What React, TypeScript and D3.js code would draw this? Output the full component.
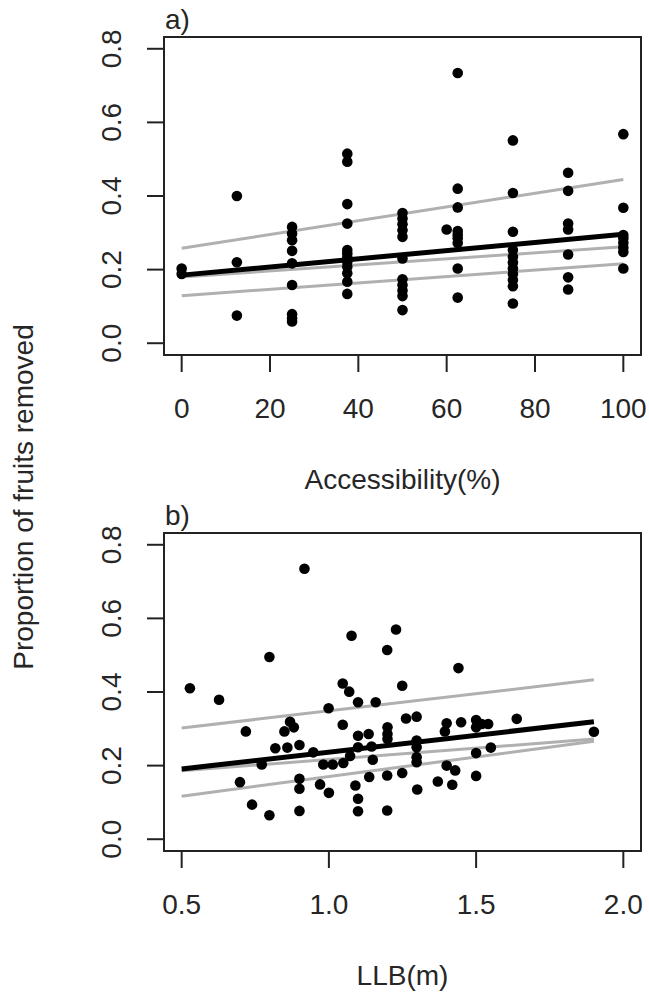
import React from "react";
import * as d3 from "d3";

// ---------- Data ----------
// Panel a: Accessibility (%) vs proportion of fruits removed
const accX: number[] = [
  0, 0,
  12.5, 12.5, 12.5,
  25, 25, 25, 25, 25, 25, 25, 25, 25,
  37.5, 37.5, 37.5, 37.5, 37.5, 37.5, 37.5, 37.5, 37.5, 37.5, 37.5, 37.5,
  50, 50, 50, 50, 50, 50, 50, 50, 50, 50, 50,
  60,
  62.5, 62.5, 62.5, 62.5, 62.5, 62.5, 62.5, 62.5, 62.5,
  75, 75, 75, 75, 75, 75, 75, 75, 75, 75, 75,
  87.5, 87.5, 87.5, 87.5, 87.5, 87.5, 87.5,
  100, 100, 100, 100, 100, 100, 100, 100,
];
const accY: number[] = [
  0.203, 0.188,
  0.40, 0.22, 0.075,
  0.316, 0.298, 0.28, 0.251, 0.217, 0.158, 0.079, 0.068, 0.059,
  0.515, 0.493, 0.378, 0.325, 0.253, 0.244, 0.233, 0.221, 0.208, 0.19, 0.167, 0.134,
  0.354, 0.339, 0.323, 0.307, 0.289, 0.23, 0.174, 0.158, 0.143, 0.128, 0.09,
  0.309,
  0.734, 0.42, 0.369, 0.305, 0.295, 0.285, 0.272, 0.203, 0.124,
  0.551, 0.408, 0.303, 0.253, 0.235, 0.219, 0.203, 0.188, 0.172, 0.155, 0.108,
  0.463, 0.414, 0.325, 0.309, 0.241, 0.179, 0.146,
  0.568, 0.368, 0.294, 0.285, 0.273, 0.26, 0.248, 0.203,
];
const accFit: [number, number][] = [[0, 0.185], [100, 0.296]];
const accUpper: [number, number][] = [[0, 0.258], [100, 0.445]];
const accMid: [number, number][] = [[0, 0.18], [100, 0.262]];
const accLower: [number, number][] = [[0, 0.129], [100, 0.216]];
const accTicks: number[] = [0, 20, 40, 60, 80, 100];

// Panel b: LLB (m) vs proportion of fruits removed
const llbX: number[] = [
  0.528, 0.627, 0.917, 0.798, 1.077, 1.228, 1.198, 1.047, 1.069, 1.249,
  0.999, 1.099, 1.159, 0.718, 0.868, 0.881, 0.849, 1.047, 0.818, 0.859,
  0.9, 0.947, 0.772, 0.981, 1.013, 1.049, 1.072, 1.099, 1.135, 1.099,
  1.149, 1.145, 1.199, 1.199, 1.199, 0.698, 0.9, 0.9, 0.97, 1.0,
  1.09, 1.099, 1.137, 1.198, 1.249, 0.739, 0.798, 0.9, 1.099, 1.198,
  1.44, 1.262, 1.298, 1.298, 1.298, 1.298, 1.298, 1.3, 1.4, 1.394,
  1.449, 1.5, 1.5, 1.519, 1.541, 1.638, 1.9, 1.5, 1.55, 1.4,
  1.429, 1.5, 1.37, 1.419,
];
const llbY: number[] = [
  0.41, 0.379, 0.735, 0.495, 0.553, 0.57, 0.514, 0.423, 0.401, 0.417,
  0.356, 0.372, 0.372, 0.293, 0.319, 0.304, 0.293, 0.311, 0.247, 0.249,
  0.256, 0.236, 0.203, 0.203, 0.203, 0.207, 0.226, 0.281, 0.286, 0.25,
  0.216, 0.252, 0.304, 0.286, 0.272, 0.155, 0.164, 0.137, 0.149, 0.126,
  0.146, 0.11, 0.169, 0.173, 0.18, 0.094, 0.065, 0.077, 0.076, 0.078,
  0.465, 0.328, 0.333, 0.268, 0.25, 0.223, 0.209, 0.135, 0.315, 0.293,
  0.318, 0.324, 0.304, 0.313, 0.313, 0.327, 0.292, 0.234, 0.249, 0.2,
  0.187, 0.172, 0.157, 0.148,
];
const llbFit: [number, number][] = [[0.5, 0.191], [1.9, 0.319]];
const llbUpper: [number, number][] = [[0.5, 0.302], [1.9, 0.433]];
const llbMid: [number, number][] = [[0.5, 0.186], [1.9, 0.272]];
const llbLower: [number, number][] = [[0.5, 0.117], [1.9, 0.266]];
const llbTicks: number[] = [0.5, 1.0, 1.5, 2.0];

const yTicks: number[] = [0, 0.2, 0.4, 0.6, 0.8];

const FONT = "'Liberation Sans', Arial, Helvetica, sans-serif";
const FS = 28;
const TXT = "#262626";

type PanelProps = {
  label: string;
  xTitle: string;
  xs: number[];
  ys: number[];
  fit: [number, number][];
  upper: [number, number][];
  mid: [number, number][];
  lower: [number, number][];
  xDomain: [number, number];
  xTicks: number[];
  xFmt: (v: number) => string;
  top: number;
};

const LEFT = 164;
const RIGHT = 641;
const PH = 318;

function Panel(p: PanelProps) {
  const bottom = p.top + PH;
  const x = d3.scaleLinear().domain(p.xDomain).range([LEFT, RIGHT]);
  const y = d3.scaleLinear().domain([-0.032, 0.832]).range([bottom, p.top]);
  const line = d3
    .line<[number, number]>()
    .x((d) => x(d[0]))
    .y((d) => y(d[1]));
  const yFmt = d3.format(".1f");
  return (
    <g>
      {[p.upper, p.mid, p.lower].map((l, i) => (
        <path key={i} d={line(l) || ""} fill="none" stroke="#b0b0b0" strokeWidth={3} />
      ))}
      <path d={line(p.fit) || ""} fill="none" stroke="#000" strokeWidth={5} />
      {p.xs.map((xv, i) => (
        <circle key={i} cx={x(xv)} cy={y(p.ys[i])} r={5.3} fill="#000" />
      ))}
      <rect x={LEFT} y={p.top} width={RIGHT - LEFT} height={PH} fill="none" stroke="#222" strokeWidth={2} />
      {yTicks.map((t) => (
        <g key={t}>
          <line x1={LEFT - 17} x2={LEFT} y1={y(t)} y2={y(t)} stroke="#222" strokeWidth={2} />
          <text
            transform={`translate(${121},${y(t)}) rotate(-90)`}
            textAnchor="middle"
            fontFamily={FONT}
            fontSize={FS}
            fill={TXT}
          >
            {yFmt(t)}
          </text>
        </g>
      ))}
      {p.xTicks.map((t) => (
        <g key={t}>
          <line x1={x(t)} x2={x(t)} y1={bottom} y2={bottom + 17} stroke="#222" strokeWidth={2} />
          <text x={x(t)} y={bottom + 63} textAnchor="middle" fontFamily={FONT} fontSize={FS} fill={TXT}>
            {p.xFmt(t)}
          </text>
        </g>
      ))}
      <text
        x={(LEFT + RIGHT) / 2}
        y={bottom + 134}
        textAnchor="middle"
        fontFamily={FONT}
        fontSize={FS}
        fill={TXT}
      >
        {p.xTitle}
      </text>
      <text x={LEFT + 1} y={p.top - 8} fontFamily={FONT} fontSize={FS} fill={TXT}>
        {p.label}
      </text>
    </g>
  );
}

export default function App() {
  return (
    <svg
      width={649}
      height={993}
      viewBox="0 0 649 993"
      style={{ position: "absolute", left: 0, top: 0, background: "#fff" }}
    >
      <rect x={0} y={0} width={649} height={993} fill="#fff" />
      <Panel
        label="a)"
        xTitle="Accessibility(%)"
        xs={accX}
        ys={accY}
        fit={accFit}
        upper={accUpper}
        mid={accMid}
        lower={accLower}
        xDomain={[-4, 104]}
        xTicks={accTicks}
        xFmt={(v) => String(v)}
        top={37}
      />
      <Panel
        label="b)"
        xTitle="LLB(m)"
        xs={llbX}
        ys={llbY}
        fit={llbFit}
        upper={llbUpper}
        mid={llbMid}
        lower={llbLower}
        xDomain={[0.44, 2.06]}
        xTicks={llbTicks}
        xFmt={d3.format(".1f")}
        top={533}
      />
      <text
        transform={`translate(${33},${497}) rotate(-90)`}
        textAnchor="middle"
        fontFamily={FONT}
        fontSize={FS}
        fill={TXT}
      >
        Proportion of fruits removed
      </text>
    </svg>
  );
}
